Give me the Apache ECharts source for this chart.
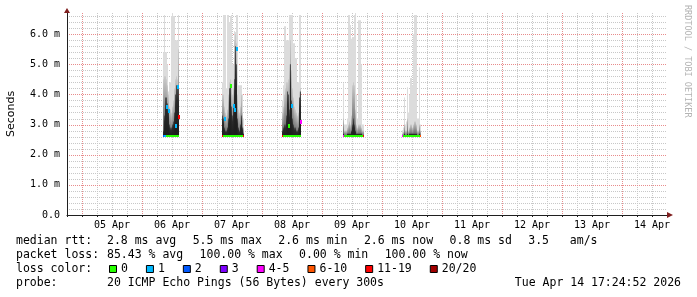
<!DOCTYPE html>
<html><head><meta charset="utf-8">
<script src="https://cdn.jsdelivr.net/npm/echarts@6/dist/echarts.min.js"></script>
<style>html,body{margin:0;padding:0;background:#fff}#c{width:697px;height:297px}</style>
</head><body><div id="c"></div>
<script>
// ---------------- data (values in ms; one slot = one 24-min pixel column) ----------------
const slotTimes = [
 '04-06 08:24','04-06 08:48','04-06 09:12','04-06 09:36','04-06 10:00','04-06 10:24','04-06 10:48','04-06 11:12','04-06 11:36','04-06 12:00','04-06 12:24','04-06 12:48','04-06 13:12','04-06 13:36','04-06 14:00','04-06 14:24',
 '04-07 08:00','04-07 08:24','04-07 08:48','04-07 09:12','04-07 09:36','04-07 10:00','04-07 10:24','04-07 10:48','04-07 11:12','04-07 11:36','04-07 12:00','04-07 12:24','04-07 12:48','04-07 13:12','04-07 13:36','04-07 14:00','04-07 14:24','04-07 14:48','04-07 15:12','04-07 15:36','04-07 16:00','04-07 16:24',
 '04-08 08:00','04-08 08:24','04-08 08:48','04-08 09:12','04-08 09:36','04-08 10:00','04-08 10:24','04-08 10:48','04-08 11:12','04-08 11:36','04-08 12:00','04-08 12:24','04-08 12:48','04-08 13:12','04-08 13:36','04-08 14:00','04-08 14:24','04-08 14:48','04-08 15:12',
 '04-09 08:24','04-09 08:48','04-09 09:12','04-09 09:36','04-09 10:00','04-09 10:24','04-09 10:48','04-09 11:12','04-09 11:36','04-09 12:00','04-09 12:24','04-09 12:48','04-09 13:12','04-09 13:36','04-09 14:00','04-09 14:24','04-09 14:48','04-09 15:12','04-09 15:36','04-09 16:00','04-09 16:24',
 '04-10 08:00','04-10 08:24','04-10 08:48','04-10 09:12','04-10 09:36','04-10 10:00','04-10 10:24','04-10 10:48','04-10 11:12','04-10 11:36','04-10 12:00','04-10 12:24','04-10 12:48','04-10 13:12','04-10 13:36','04-10 14:00','04-10 14:24','04-10 14:48','04-10 15:12'
];
const smokeLo = [
 2.6,2.6,2.6,2.6,2.6,2.6,2.6,2.6,2.6,2.6,2.6,2.6,2.6,2.6,2.6,2.6,
 2.6,2.6,2.6,2.6,2.6,2.6,2.6,2.6,2.6,2.6,2.6,2.6,2.6,2.6,2.6,2.6,2.6,2.6,2.6,2.6,2.6,2.6,
 2.6,2.6,2.6,2.6,2.6,2.6,2.6,2.6,2.6,2.6,2.6,2.6,2.6,2.6,2.6,2.6,2.6,2.6,2.6,
 2.6,2.6,2.6,2.6,2.6,2.6,2.6,2.6,2.6,2.6,2.6,2.6,2.6,2.6,2.6,2.6,2.6,2.6,2.6,2.6,2.6,
 2.6,2.6,2.6,2.6,2.6,2.6,2.6,2.6,2.6,2.6,2.6,2.6,2.6,2.6,2.6,2.6,2.6,2.6,2.6
];
const smokeDark = [
 2.8,3.3,3.9,3.9,3.7,3.5,3.0,2.9,2.9,3.0,3.1,3.4,4.0,4.3,4.3,4.2,
 3.3,3.2,2.9,2.8,2.8,2.9,3.2,4.2,4.3,3.6,3.3,3.6,4.5,5.6,5.0,3.2,2.9,2.8,3.0,3.3,2.9,2.7,
 2.8,2.9,3.0,3.0,3.3,4.1,4.0,3.5,5.0,3.8,3.2,3.0,2.9,2.9,2.8,2.8,2.9,3.9,4.1,
 2.7,2.65,2.65,2.65,2.7,2.7,2.7,2.7,2.8,3.0,3.2,3.0,2.8,2.7,2.7,2.7,2.7,2.7,2.7,2.65,2.65,
 2.65,2.65,2.7,2.65,2.65,2.7,2.65,2.7,2.7,2.7,2.7,2.7,2.7,2.7,2.7,2.65,2.65,2.7,2.65
];
const smokeMid = [
 4.5,4.6,4.6,4.5,4.3,4.0,3.6,3.5,3.4,3.6,3.8,4.2,4.5,4.6,4.5,5.5,
 4.0,4.0,3.6,3.4,3.3,3.5,4.0,4.4,4.5,4.3,4.0,4.2,5.8,6.0,5.7,4.0,3.5,3.4,3.6,4.0,3.4,2.9,
 3.4,3.6,4.0,4.2,4.4,4.4,4.5,5.0,5.8,4.8,4.2,3.9,3.6,3.5,3.4,3.3,3.4,4.1,4.2,
 3.2,2.8,2.8,2.8,2.9,3.0,3.1,3.0,3.3,4.3,4.4,4.3,3.5,3.0,2.9,3.0,3.0,3.0,2.9,2.8,2.8,
 2.7,2.75,3.0,2.8,2.8,3.2,2.8,2.9,3.0,3.0,2.9,3.0,3.1,3.1,3.0,2.8,2.8,3.0,2.8
];
const smokeHi = [
 5.4,6.63,5.4,5.4,5.0,4.1,4.4,4.4,6.6,6.7,6.6,6.6,5.8,5.8,5.8,6.63,
 4.4,6.63,6.63,6.63,4.2,6.63,6.63,6.4,6.6,6.63,5.0,5.0,6.1,6.07,6.63,6.63,4.3,4.3,4.3,4.3,4.0,3.2,
 3.8,4.3,6.26,6.26,5.8,5.8,5.8,6.63,6.63,6.63,6.63,5.7,5.7,5.2,5.2,4.4,4.4,6.63,6.63,
 4.37,3.0,3.0,3.0,3.2,6.63,6.63,6.3,5.85,5.9,5.9,6.63,6.7,4.0,3.2,6.46,6.46,6.46,5.0,3.0,3.0,
 2.8,2.9,3.9,3.0,3.1,4.24,3.4,4.0,4.54,4.54,4.3,6.0,6.63,6.63,6.63,3.2,3.2,4.9,3.0
];
const medianMs = [
 2.62,2.62,2.62,2.62,2.62,2.62,2.62,2.62,2.62,2.62,2.62,2.62,2.62,2.62,2.62,2.62,
 2.62,2.62,2.62,2.62,2.62,2.62,2.62,2.62,2.62,2.62,2.62,2.62,2.62,2.62,2.62,2.62,2.62,2.62,2.62,2.62,2.62,2.62,
 2.62,2.62,2.62,2.62,2.62,2.62,2.62,2.62,2.62,2.62,2.62,2.62,2.62,2.62,2.62,2.62,2.62,2.62,2.62,
 2.62,2.62,2.62,2.62,2.62,2.62,2.62,2.62,2.62,2.62,2.62,2.62,2.62,2.62,2.62,2.62,2.62,2.62,2.62,2.62,2.62,
 2.62,2.62,2.62,2.62,2.62,2.62,2.62,2.62,2.62,2.62,2.62,2.62,2.62,2.62,2.62,2.62,2.62,2.62,2.62
];
const lossPings = [
 2,1,1,0,0,0,0,0,0,0,0,0,0,0,0,0,
 15,0,0,0,0,0,0,0,0,0,0,0,0,0,0,0,0,0,0,0,0,15,
 15,0,0,0,0,0,0,0,0,0,0,0,0,0,0,0,0,0,0,
 5,0,0,0,0,0,0,0,0,0,0,0,0,0,0,0,0,0,0,0,15,
 5,0,0,0,0,0,0,0,0,0,0,0,0,0,0,0,0,0,7
];
// short-lived median excursions inside a pixel column
const spikeTimes = ['04-06 09:36','04-06 10:24','04-06 13:12','04-06 14:00','04-06 14:24','04-07 08:48','04-07 11:12','04-07 12:24','04-07 12:48','04-07 13:36','04-08 10:24','04-08 11:36','04-08 15:12'];
const spikeMs    = [3.57,3.45,2.95,4.25,3.26,3.17,4.28,3.61,3.48,5.50,2.96,3.60,3.09];
const spikeLoss  = [1,1,1,1,15,1,0,1,1,1,0,1,5];

const dayLabels = ['05 Apr','06 Apr','07 Apr','08 Apr','09 Apr','10 Apr','11 Apr','12 Apr','13 Apr','14 Apr'];
const yTickLabels = ['0.0','1.0 m','2.0 m','3.0 m','4.0 m','5.0 m','6.0 m'];
const lossLabels = ['0','1','2','3','4-5','6-10','11-19','20/20'];
const lossColors = ['#26ff00','#00b8ff','#0059ff','#7e00ff','#ff00ff','#ff5500','#ff0000','#a10000'];
const rttItems  = ['median rtt:','2.8 ms avg','5.5 ms max','2.6 ms min','2.6 ms now','0.8 ms sd','3.5   am/s'];
const lossItems = ['packet loss:','85.43 % avg','100.00 % max','0.00 % min','100.00 % now'];
const colorTitle = 'loss color:';
const probeItems = ['probe:','20 ICMP Echo Pings (56 Bytes) every 300s'];
const dateText = 'Tue Apr 14 17:24:52 2026';
const watermark = 'RRDTOOL / TOBI OETIKER';

// ---------------- chart ----------------
const SLOT_H = 0.4;            // hours per pixel column
const X_MIN = 18, X_MAX = 258; // hours since 04 Apr 00:00
const Y_MAX = 6.7;
const MONO = '"DejaVu Sans Mono","Liberation Mono",monospace';
const LEGEND_FONT = '11.5px ' + MONO;
const GRID_MINOR = '#c8c8c8';
const GRID_MAJOR = '#e88c8c';

function toHours(s){
  const [md, hm] = s.split(' ');
  const d = +md.split('-')[1];
  const [h, m] = hm.split(':').map(Number);
  return (d - 4) * 24 + h + m / 60;
}
function lossColor(n){
  const b = n <= 3 ? n : n <= 5 ? 4 : n <= 10 ? 5 : n <= 19 ? 6 : 7;
  return lossColors[b];
}
const smokeData = slotTimes.map((s,i)=>[toHours(s), smokeLo[i], smokeDark[i], smokeMid[i], smokeHi[i]]);
const medData = slotTimes.map((s,i)=>[toHours(s), medianMs[i], lossPings[i]]);
const spikeData = spikeTimes.map((s,i)=>[toHours(s), spikeMs[i], spikeLoss[i]]);

const chart = echarts.init(document.getElementById('c'), null, {renderer:'canvas', width:697, height:297});

function colBounds(api, t){
  const x0 = Math.round(api.coord([t, 0])[0]);
  const x1 = Math.round(api.coord([t + SLOT_H, 0])[0]);
  return [x0, Math.max(1, x1 - x0)];
}

const option = {
  animation: false,
  backgroundColor: '#fff',
  grid: {left: 67, right: 30, top: 13, bottom: 82, containLabel: false, outerBoundsMode: 'none'},
  xAxis: {
    type: 'value', min: X_MIN, max: X_MAX, interval: 6,
    axisLine: {show: true, lineStyle: {color: '#1f1f1f', width: 1}},
    axisTick: {show: true, length: 2, lineStyle: {color: '#1f1f1f'}},
    axisLabel: {
      fontFamily: MONO, fontSize: 10, color: '#000', margin: 5,
      formatter: v => { const k = (v - 36) / 24; return (Number.isInteger(k) && k >= 0 && k < dayLabels.length) ? dayLabels[k] : ''; }
    },
    splitLine: {show: false}
  },
  yAxis: {
    type: 'value', min: 0, max: Y_MAX, interval: 0.2,
    name: 'Seconds', nameLocation: 'middle', nameGap: 50,
    nameTextStyle: {fontFamily: '"DejaVu Sans"', fontSize: 11, color: '#000'},
    axisLine: {show: true, lineStyle: {color: '#1f1f1f', width: 1}},
    axisTick: {show: false},
    axisLabel: {
      fontFamily: MONO, fontSize: 10, color: '#000', margin: 7,
      formatter: v => { const r = Math.round(v); return Math.abs(v - r) < 1e-6 ? (yTickLabels[r] || '') : ''; }
    },
    splitLine: {show: false}
  },
  series: [
    {
      type: 'custom', name: 'smoke', data: smokeData, encode: {x: 0, y: [1, 4]}, clip: true, silent: true, z: 2,
      renderItem: (params, api) => {
        const t = api.value(0);
        const [x0, w] = colBounds(api, t);
        const yLo = api.coord([t, api.value(1)])[1];
        const yD = api.coord([t, api.value(2)])[1];
        const yM = api.coord([t, api.value(3)])[1];
        const yH = api.coord([t, api.value(4)])[1];
        return {type: 'group', children: [
          {type: 'rect', shape: {x: x0, y: yH, width: w, height: yLo - yH}, style: {fill: '#dcdcdc'}},
          {type: 'rect', shape: {x: x0, y: yM, width: w, height: yLo - yM}, style: {fill: new echarts.graphic.LinearGradient(0,0,0,1,[{offset:0,color:'#cccccc'},{offset:1,color:'#555555'}])}},
          {type: 'rect', shape: {x: x0, y: yD, width: w, height: yLo - yD}, style: {fill: new echarts.graphic.LinearGradient(0,0,0,1,[{offset:0,color:'#555555'},{offset:0.3,color:'#2a2a2a'},{offset:1,color:'#1c1c1c'}])}}
        ]};
      }
    },
    {
      type: 'custom', name: 'median', data: medData, encode: {x: 0, y: 1}, clip: true, silent: true, z: 3,
      renderItem: (params, api) => {
        const t = api.value(0);
        const [x0, w] = colBounds(api, t);
        const y = api.coord([t, api.value(1)])[1];
        return {type: 'rect', shape: {x: x0, y: Math.round(y) - 1, width: w, height: 2}, style: {fill: lossColor(api.value(2))}};
      }
    },
    {
      type: 'custom', name: 'spikes', data: spikeData, encode: {x: 0, y: 1}, clip: true, silent: true, z: 4,
      renderItem: (params, api) => {
        const t = api.value(0);
        const [x0, w] = colBounds(api, t);
        const y = api.coord([t, api.value(1)])[1];
        return {type: 'rect', shape: {x: x0, y: Math.round(y) - 2, width: w + 1, height: 4}, style: {fill: lossColor(api.value(2))}};
      }
    }
  ]
};
chart.setOption(option);

// ---------------- grid lines, axis arrows, watermark, legend (graphic layer) ----------------
const P = (x, y) => chart.convertToPixel({gridIndex: 0}, [x, y]);
const pTL = P(X_MIN, Y_MAX), pBR = P(X_MAX, 0);
const gx0 = Math.round(pTL[0]), gy0 = Math.round(pTL[1]);
const gx1 = Math.round(pBR[0]), gy1 = Math.round(pBR[1]);

const gridEls = [];
function vline(h, color){
  const x = Math.round(P(h, 0)[0]) + 0.5;
  gridEls.push({type: 'line', z: 0, silent: true, shape: {x1: x, y1: gy0, x2: x, y2: gy1}, style: {stroke: color, lineWidth: 1, lineDash: [1, 1]}});
}
function hline(v, color){
  const y = Math.round(P(X_MIN, v)[1]) + 0.5;
  gridEls.push({type: 'line', z: 0, silent: true, shape: {x1: gx0, y1: y, x2: gx1, y2: y}, style: {stroke: color, lineWidth: 1, lineDash: [1, 1]}});
}
// minor first, then major
for (let h = X_MIN + 6; h < X_MAX; h += 6) if (h % 24 !== 0) vline(h, GRID_MINOR);
for (let k = 1; k <= 33; k++) if (k % 5 !== 0) hline(k / 5, GRID_MINOR);
for (let h = 24; h < X_MAX; h += 24) vline(h, GRID_MAJOR);
for (let k = 1; k <= 6; k++) hline(k, GRID_MAJOR);

const measure = document.createElement('canvas').getContext('2d');
measure.font = LEGEND_FONT;
const tw = s => measure.measureText(s).width;
const cw = tw('0');

const els = gridEls.concat([
  {type: 'polygon', z: 10, shape: {points: [[gx0 - 3, gy0], [gx0 + 3, gy0], [gx0, gy0 - 5]]}, style: {fill: '#801f1f'}},
  {type: 'polygon', z: 10, shape: {points: [[gx1, gy1 - 3], [gx1, gy1 + 3], [gx1 + 6, gy1]]}, style: {fill: '#801f1f'}},
  {type: 'text', x: 687, y: 5, rotation: -Math.PI / 2, style: {text: watermark, font: '8.5px ' + MONO, fill: '#b4b4b4', align: 'left', verticalAlign: 'middle'}}
]);
const rowY = [241, 255, 269, 283];
const LEFT = 16, VALUE_X = 107, GAP = 16.4;
function addText(s, x, y, align){
  els.push({type: 'text', x, y, style: {text: s, font: LEGEND_FONT, fill: '#000', align: align || 'left', verticalAlign: 'middle'}});
}
function addRow(items, y){
  addText(items[0], LEFT, y);
  let x = VALUE_X;
  for (let i = 1; i < items.length; i++) { addText(items[i], x, y); x += tw(items[i]) + GAP; }
}
addRow(rttItems, rowY[0]);
addRow(lossItems, rowY[1]);
addText(colorTitle, LEFT, rowY[2]);
addRow(probeItems, rowY[3]);
addText(dateText, 681, rowY[3], 'right');
let bx = 109;
lossLabels.forEach((lab, i) => {
  els.push({type: 'rect', shape: {x: bx + 0.5, y: rowY[2] - 3.5, width: 7, height: 7}, style: {fill: lossColors[i], stroke: '#000', lineWidth: 1}});
  addText(lab, bx + 12, rowY[2]);
  bx += 12 + lab.length * cw + 18;
});
chart.setOption({graphic: {elements: els}});
</script>
</body></html>
